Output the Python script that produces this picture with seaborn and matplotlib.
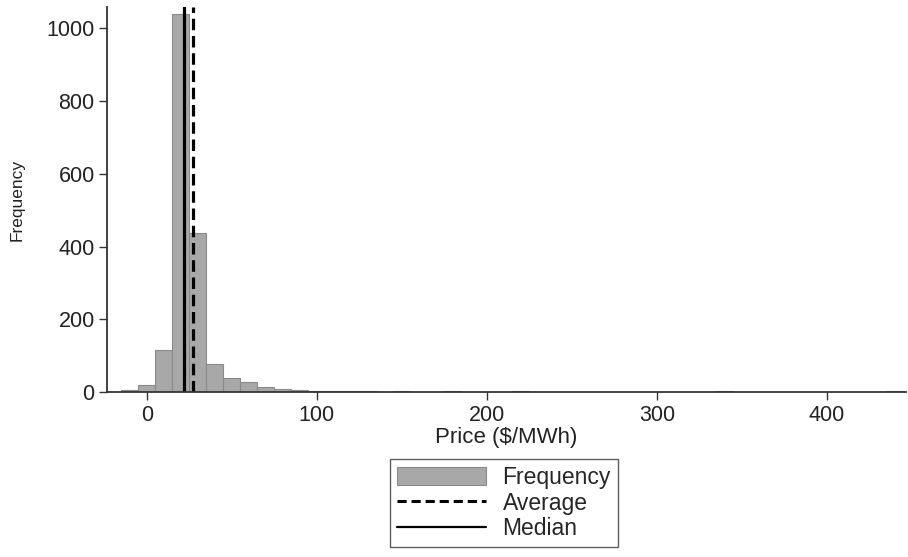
import numpy as np
import pandas as pd
import matplotlib
matplotlib.use("Agg")
import matplotlib.pyplot as plt
import seaborn as sns
from matplotlib.patches import Patch
from matplotlib.lines import Line2D

# histogram bins (left edge, $/MWh) and their counts
bin_left = [-15, -5, 5, 15, 25, 35, 45, 55, 65, 75, 85, 95, 105, 115, 125,
            135, 145, 165, 175, 205, 215, 255, 335, 345, 415, 435]
bin_count = [7, 19, 117, 1040, 437, 77, 38, 27, 13, 8, 7, 4, 3, 2, 2,
             1, 2, 1, 2, 1, 2, 1, 2, 1, 1, 2]
bin_width = 10

avg_price = 27.0
median_price = 22.0

x_ticks = [0, 100, 200, 300, 400]
y_ticks = [0, 200, 400, 600, 800, 1000]

df = pd.DataFrame({"price": [b + bin_width / 2 for b in bin_left],
                   "count": bin_count})

sns.set_style("ticks")
plt.rcParams["font.family"] = ["Liberation Sans", "DejaVu Sans"]

fig = plt.figure(figsize=(9.08, 5.57), dpi=100)
ax = fig.add_axes([0.118, 0.296, 0.880, 0.691])

sns.histplot(data=df, x="price", weights="count", binwidth=bin_width,
             binrange=(-15, 445), ax=ax,
             color="#a8a8a8", edgecolor="#8a8a8a", linewidth=0.8, alpha=1)

ax.axvline(avg_price, color="black", lw=2.3, dashes=(3.6, 1.8))
ax.axvline(median_price, color="black", lw=2.3)

ax.set_xlim(-23.4, 446.6)
ax.set_ylim(0, 1058)
ax.set_xticks(x_ticks)
ax.set_yticks(y_ticks)
ax.tick_params(labelsize=15.5, length=5.5, width=1, color="#333333",
               labelcolor="#222222", pad=3.5)
ax.set_xlabel("Price ($/MWh)", fontsize=16, labelpad=1, color="#222222")
ax.set_ylabel("Frequency", fontsize=12.5, labelpad=16, color="#222222")
for side in ["top", "right"]:
    ax.spines[side].set_visible(False)
for side in ["left", "bottom"]:
    ax.spines[side].set_linewidth(1.3)
    ax.spines[side].set_color("#333333")

handles = [
    Patch(facecolor="#a8a8a8", edgecolor="#8a8a8a", linewidth=0.8),
    Line2D([], [], color="black", lw=2.2, dashes=(3.0, 1.6)),
    Line2D([], [], color="black", lw=1.6),
]
leg = fig.legend(handles, ["Frequency", "Average", "Median"],
                 loc="upper center", bbox_to_anchor=(0.555, 1 - 459 / 557),
                 fontsize=16.5, frameon=True, fancybox=False,
                 handlelength=3.9, handleheight=0.8, handletextpad=0.7,
                 labelspacing=0.12, borderpad=0.3, borderaxespad=0)
leg.get_frame().set_edgecolor("#333333")
leg.get_frame().set_linewidth(1.0)

fig.savefig("out.png", dpi=100)
